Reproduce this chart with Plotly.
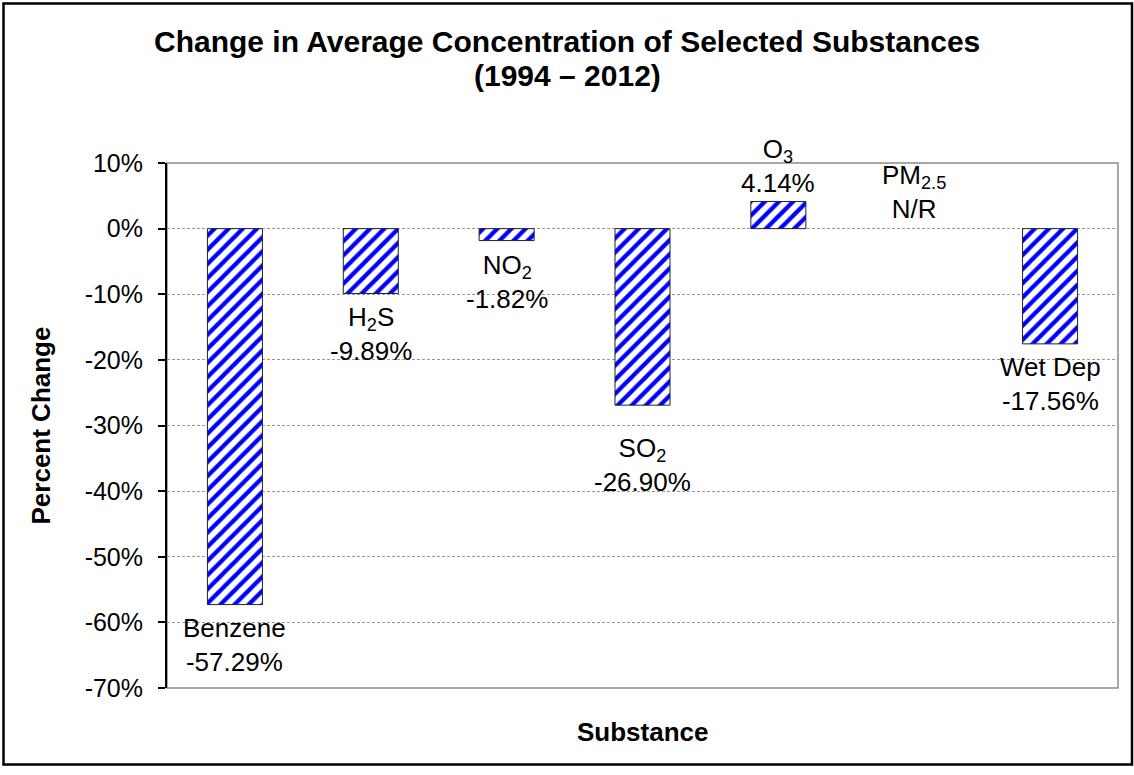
import plotly.graph_objects as go

# Substances and their percent change, 1994 - 2012 (None = not reported)
substances = ["Benzene", "H<sub>2</sub>S", "NO<sub>2</sub>", "SO<sub>2</sub>",
              "O<sub>3</sub>", "PM<sub>2.5</sub>", "Wet Dep"]
pct_change = [-57.29, -9.89, -1.82, -26.90, 4.14, None, -17.56]

# Where each data label sits (centre of the two-line label, in axis units)
label_y = [-63.4, -16.0, -8.1, -36.0, 9.5, 5.6, -23.7]

tick_vals = [10, 0, -10, -20, -30, -40, -50, -60, -70]
tick_text = ["10%", "0%", "-10%", "-20%", "-30%", "-40%", "-50%", "-60%", "-70%"]

FONT = "Liberation Sans, Arial, sans-serif"

fig = go.Figure()
fig.add_trace(go.Bar(
    x=list(range(len(substances))),
    y=pct_change,
    width=0.405,
    marker=dict(
        color="white",
        line=dict(color="#222222", width=1),
        pattern=dict(shape="/", fgcolor="#0000FF", bgcolor="white",
                     size=10, solidity=0.42, fillmode="replace"),
    ),
    hoverinfo="skip",
    showlegend=False,
))

annotations = []
for i, (name, val, ly) in enumerate(zip(substances, pct_change, label_y)):
    val_txt = "N/R" if val is None else f"{val:.2f}%"
    annotations.append(dict(
        x=i, y=ly, xref="x", yref="y", text=f"{name}<br>{val_txt}",
        showarrow=False, xanchor="center", yanchor="middle",
        font=dict(family=FONT, size=26, color="black"),
    ))

# Chart title (two lines) and axis titles
W, H = 1134, 775
L, R, T, B = 167, 16, 163, 87
pw, ph = W - L - R, H - T - B


def px_x(px):
    return (px - L) / pw


def px_y(py):
    return (H - B - py) / ph


annotations += [
    dict(x=px_x(567), y=px_y(42), xref="paper", yref="paper", xanchor="center", yanchor="middle",
         text="<b>Change in Average Concentration of Selected Substances</b>",
         showarrow=False, font=dict(family=FONT, size=30, color="black")),
    dict(x=px_x(567), y=px_y(75), xref="paper", yref="paper", xanchor="center", yanchor="middle",
         text="<b>(1994 – 2012)</b>",
         showarrow=False, font=dict(family=FONT, size=30, color="black")),
    dict(x=px_x(40), y=0.5, xref="paper", yref="paper", xanchor="center", yanchor="middle",
         text="<b>Percent Change</b>", textangle=-90,
         showarrow=False, font=dict(family=FONT, size=26, color="black")),
    dict(x=0.5, y=px_y(732), xref="paper", yref="paper", xanchor="center", yanchor="middle",
         text="<b>Substance</b>",
         showarrow=False, font=dict(family=FONT, size=26, color="black")),
]

shapes = [
    # plot-area frame
    dict(type="rect", xref="paper", yref="paper", x0=0, y0=0, x1=1, y1=1,
         line=dict(color="#8c8c8c", width=1.5), layer="below"),
    # outer chart border
    dict(type="rect", xref="paper", yref="paper",
         x0=px_x(3.5), x1=px_x(1132), y0=px_y(764.5), y1=px_y(3.5),
         line=dict(color="black", width=2.5)),
]

fig.update_layout(
    width=W, height=H,
    margin=dict(l=L, r=R, t=T, b=B),
    paper_bgcolor="white", plot_bgcolor="white",
    font=dict(family=FONT, color="black"),
    bargap=0.6,
    annotations=annotations,
    shapes=shapes,
)
fig.update_xaxes(range=[-0.5, len(substances) - 0.5], showticklabels=False,
                 showgrid=False, zeroline=False, showline=False, ticks="")
fig.update_yaxes(range=[-70, 10], tickvals=tick_vals, ticktext=tick_text,
                 tickfont=dict(family=FONT, size=25, color="black"),
                 showline=True, linecolor="black", linewidth=2,
                 ticks="outside", ticklen=7, tickcolor="black", tickwidth=1.5,
                 showgrid=True, gridcolor="#9a9a9a", gridwidth=1, griddash="3px,2px",
                 zeroline=False, ticklabelstandoff=10)

fig.write_html("out.html")
